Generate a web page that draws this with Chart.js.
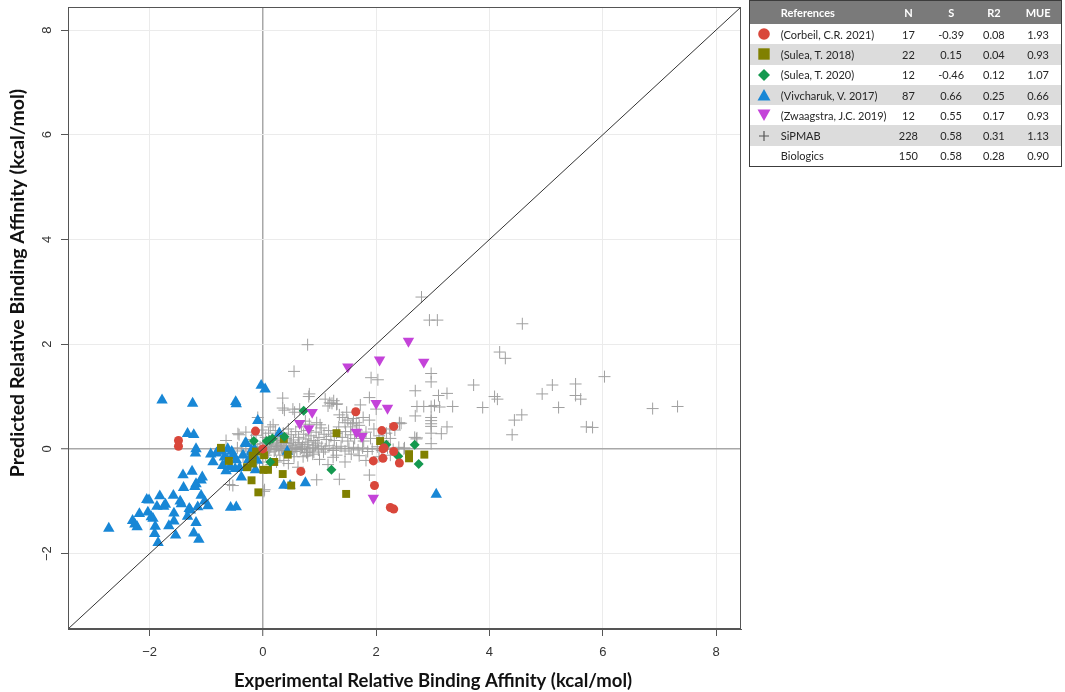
<!DOCTYPE html>
<html>
<head>
<meta charset="utf-8">
<script src="https://cdn.jsdelivr.net/npm/chart.js@4.4.0/dist/chart.umd.min.js"></script>
<style>
  body { margin: 0; background: #fff; }
  #wrap { position: relative; width: 1065px; height: 692px; }
  #legendTable {
    position: absolute; left: 749px; top: 0; width: 313px;
    border-collapse: collapse; border: 1.5px solid #3c3c3c;
    font-family: Lato, sans-serif; font-size: 11px; color: #262626;
  }
  #legendTable th { background: #7a7a7a; color: #fff; font-weight: bold; height: 23px; padding: 0; }
  #legendTable td { height: 20.3px; padding: 0; }
  #legendTable tr:nth-child(odd) td { background: #dcdcdc; }
  #legendTable .c { text-align: center; }
  #legendTable .l { text-align: left; padding-left: 3px; }
  #legendTable svg { display: block; margin: 0 auto; }
</style>
</head>
<body>
<div id="wrap">
  <canvas id="chart"></canvas>
  <table id="legendTable"></table>
</div>
<script>
// axis range and ticks
let axisMin = -3.44, axisMax = 8.44;
let xTicks = [-2, 0, 2, 4, 6, 8];
let yTicks = [-2, 0, 2, 4, 6, 8];

// legend table rows
let refNames = ["(Corbeil, C.R. 2021)", "(Sulea, T. 2018)", "(Sulea, T. 2020)", "(Vivcharuk, V. 2017)", "(Zwaagstra, J.C. 2019)", "SiPMAB", "Biologics"];
let refN = [17, 22, 12, 87, 12, 228, 150];
let refS = ["-0.39", "0.15", "-0.46", "0.66", "0.55", "0.58", "0.58"];
let refR2 = ["0.08", "0.04", "0.12", "0.25", "0.17", "0.31", "0.28"];
let refMUE = ["1.93", "0.93", "1.07", "0.66", "0.93", "1.13", "0.90"];

// [experimental, predicted]
let corbeil = [[-1.49,0.16],[-1.49,0.05],[-0.13,0.34],[0,0],[0.67,-0.43],[1.64,0.71],[2.1,0.35],[2.31,0.43],[2.12,0],[2.31,-0.05],[1.95,-0.23],[2.12,-0.18],[2.41,-0.27],[1.97,-0.7],[2.25,-1.12],[2.31,-1.15],[2.14,0.02]];

let sulea2018 = [[-0.74,0.02],[-0.6,-0.23],[-0.18,-0.13],[-0.18,-0.28],[-0.2,-0.6],[-0.08,-0.83],[0.01,-0.4],[0.09,-0.4],[0.35,-0.48],[0.37,0.19],[0.44,-0.11],[0.5,-0.7],[1.3,0.3],[1.47,-0.86],[2.07,0.15],[2.58,-0.1],[2.58,-0.18],[2.85,-0.11],[-0.12,-0.05],[0.02,-0.12],[-0.28,-0.35],[0.2,-0.25]];

let sulea2020 = [[-0.16,0.15],[0.07,0.15],[0.12,0.17],[0.17,0.2],[0.13,-0.25],[0.72,0.73],[0.38,0.23],[1.21,-0.4],[2.18,0.08],[2.39,-0.14],[2.68,0.08],[2.75,-0.29]];

let vivcharuk = [[-2.72,-1.52],[-1.78,0.93],[-1.24,0.87],[-0.48,0.9],[-0.47,0.86],[-0.03,1.21],[0.04,1.14],[-1.33,0.29],[-1.22,0.27],[-1.18,0.0],
  [-1.19,-0.08],[-0.92,-0.1],[-0.88,-0.25],[-0.78,-0.03],[-0.62,0.0],[-0.68,-0.16],[-0.62,-0.22],[-0.53,-0.13],[-0.47,-0.21],[-0.71,-0.32],
  [-0.58,-0.34],[-0.49,-0.38],[-0.41,-0.36],[-0.25,-0.21],[-0.38,-0.54],[-0.31,0.11],[-0.23,-0.18],[-0.2,-0.06],[-0.15,0.0],[-0.09,0.54],
  [-0.13,-0.4],[0.29,0.3],[0.43,-0.05],[0.37,-0.7],[0.48,-0.7],[0.75,-0.65],[-1.25,-0.43],[-1.41,-0.5],[-1.07,-0.54],[-1.09,-0.6],
  [-1.18,-0.67],[-1.2,-0.72],[-1.4,-0.74],[-1.09,-0.89],[-1.03,-1.0],[-0.97,-1.09],[-2.05,-0.97],[-2.01,-0.98],[-1.82,-0.9],[-1.87,-1.1],
  [-1.75,-1.1],[-1.72,-1.06],[-1.58,-0.89],[-1.46,-1.0],[-1.44,-1.05],[-2.18,-1.24],[-2.03,-1.21],[-1.97,-1.3],[-1.94,-1.33],[-1.57,-1.23],
  [-1.3,-1.14],[-1.28,-1.17],[-1.33,-1.29],[-1.15,-1.11],[-2.3,-1.37],[-2.26,-1.44],[-2.22,-1.49],[-1.9,-1.48],[-1.91,-1.62],[-1.66,-1.47],
  [-1.57,-1.38],[-1.54,-1.65],[-1.85,-1.79],[-1.18,-1.41],[-1.22,-1.61],[-1.13,-1.73],[-0.57,-1.12],[-0.47,-1.11],[3.06,-0.87],[-0.29,0.1],
  [-0.2,-0.03],[-0.82,-0.08],[-0.72,-0.05],[-0.55,-0.05],[-0.35,-0.12],[-0.65,-0.42],[-0.1,-0.22]];

let zwaagstra = [[1.5,1.57],[2.06,1.7],[2.57,2.06],[2.84,1.66],[0.87,0.7],[0.65,0.49],[0.81,0.39],[2.0,0.87],[2.2,0.78],[1.65,0.32],[1.75,0.24],[1.95,-0.94]];

let sipmab = [
  [2.8,2.9],[2.94,2.46],[3.08,2.46],[4.58,2.39],[4.18,1.85],[4.28,1.73],[6.03,1.38],[2.97,1.44],[2.97,1.28],[2.69,1.11],
  [3.1,1.02],[3.25,1.06],[3.72,1.22],[4.09,1.0],[4.14,0.95],[4.93,1.05],[5.11,1.22],[5.52,1.24],[5.52,1.02],[5.61,0.95],
  [2.72,0.81],[2.84,0.81],[2.97,0.81],[3.03,0.83],[3.12,0.8],[3.35,0.81],[3.88,0.79],[5.22,0.79],[6.88,0.77],[7.32,0.81],
  [2.69,0.63],[2.97,0.6],[2.97,0.54],[2.97,0.48],[2.97,0.43],[3.25,0.42],[3.15,0.29],[2.97,0.3],[2.97,0.1],[2.71,0.19],
  [2.49,0.0],[2.41,0.48],[4.44,0.55],[4.57,0.65],[4.4,0.27],[5.71,0.42],[5.82,0.41],
  [0.79,1.99],[0.55,1.48],[1.91,1.36],[2.03,1.32],[0.35,0.97],[0.35,0.78],[0.82,1.05],[0.81,1.0],[1.1,0.95],
  [1.18,0.88],[1.25,0.92],[1.3,0.85],[1.15,0.82],[0.53,0.76],[0.65,0.76],[0.18,0.46],[1.35,0.65],[1.48,0.7],[1.6,0.58],
  [1.65,0.5],[1.7,0.45],[1.58,0.48],[0.95,0.5],[1.01,0.46],[0.75,0.53],[0.82,0.47],[1.72,0.84],[1.88,0.98],[1.77,0.6],
  [2.41,0.5],[2.68,0.22],[-0.42,0.27],[-0.59,-0.68],[0.95,-0.59],[1.35,-0.58],[1.88,-0.5],[0.02,-0.81],[0.24,-0.25],[0.88,-0.1],
  [1.56,-0.1],[1.82,-0.22],[0.38,0.74],[0.56,0.7],[-0.09,0.6],[-0.44,0.29],[-0.65,0.16],[-0.53,-0.7],[0.03,-0.78],[0.37,-0.22],
  [-0.06,-0.25],[0.71,-0.15],[0.79,-0.13],[1.22,0.87],[1.31,0.86],[2.0,0.76],[1.41,0.6],[1.5,0.55],[1.88,0.55],[2.44,0.49],
  [2.24,0.38],[2.72,0.21],[2.5,0.02],[1.24,-0.16],[1.45,0.5],[1.55,0.42],
  [-0.45,0.02],[-0.38,-0.04],[-0.3,0.05],[-0.22,0.0],[-0.15,0.08],[-0.1,-0.03],[-0.05,0.04],[0.0,0.1],[0.04,-0.02],[0.08,0.06],
  [0.12,0.01],[0.15,0.09],[0.2,-0.04],[0.24,0.05],[0.28,0.0],[0.31,0.07],[0.35,-0.03],[0.39,0.04],[0.42,0.1],[0.46,0.0],
  [0.5,0.06],[0.55,-0.05],[0.58,0.03],[0.62,0.09],[0.66,-0.01],[0.7,0.05],[0.74,0.0],[0.79,0.08],[0.83,-0.04],[0.88,0.03],
  [0.93,0.07],[0.98,-0.02],[1.04,0.04],[1.1,0.0],[1.17,0.06],[1.24,-0.03],[1.3,0.02],[1.38,0.05],[1.45,-0.04],[1.52,0.01],
  [1.6,0.03],[1.68,-0.02],[1.76,0.02],[1.85,-0.05],[1.93,0.0],[2.02,0.04],[2.1,-0.03],[2.2,0.02],[2.3,-0.01],[2.4,0.03],
  [0.02,0.03],[0.06,0.12],[0.1,-0.06],[0.14,0.04],[0.18,0.11],[0.22,-0.01],[0.26,0.13],[0.33,0.02],[0.37,0.12],[0.44,-0.06],
  [0.48,0.13],[0.52,0.0],[0.6,-0.02],[0.64,0.12],[0.68,0.02],[0.77,-0.07],[0.81,0.13],[0.9,-0.06],[0.96,0.11],[1.07,-0.06],
  [0.05,0.22],[0.1,0.3],[0.16,0.18],[0.22,0.35],[0.27,0.25],[0.3,0.16],[0.36,0.3],[0.41,0.2],[0.45,0.38],[0.5,0.27],
  [0.54,0.17],[0.58,0.33],[0.63,0.22],[0.68,0.42],[0.72,0.28],[0.76,0.19],[0.8,0.35],[0.85,0.25],[0.9,0.16],[0.94,0.32],
  [0.99,0.22],[1.03,0.4],[1.08,0.28],[1.12,0.18],[1.16,0.35],[1.2,0.24],[1.26,0.16],[1.3,0.3],[1.34,0.42],[1.4,0.22],
  [1.46,0.33],[1.5,0.15],[1.55,0.27],[1.62,0.2],[1.66,0.36],[1.72,0.24],[1.78,0.15],[1.82,0.32],[1.9,0.2],[1.96,0.38],
  [2.05,0.25],[2.12,0.15],[2.18,0.3],[2.25,0.2],[2.33,0.36],[-0.2,0.18],[-0.3,0.32],[-0.12,0.26],[-0.02,0.36],[0.13,0.42],
  [-0.35,-0.15],[-0.2,-0.3],[0.05,-0.12],[0.15,-0.3],[0.3,-0.12],[0.45,-0.28],[0.55,-0.15],[0.62,-0.35],[1.0,-0.2],[1.15,-0.3],
  [1.3,-0.12],[1.45,-0.25],[1.7,-0.13],[2.05,-0.15],[2.25,-0.12]
];

let colors = ["#d9473b", "#808000", "#14994f", "#1887d6", "#c443d9", "#a0a0a0"];

function toXY(arr) {
  return arr.map(p => ({ x: p[0], y: p[1] }));
}

function fmtTick(v) {
  return v < 0 ? "\u2212" + Math.abs(v) : String(v);
}

// table with marker symbols
let symbols = [
  '<svg width="14" height="14"><circle cx="7" cy="7" r="5.8" fill="' + colors[0] + '"/></svg>',
  '<svg width="14" height="14"><rect x="1.3" y="1.3" width="11.4" height="11.4" fill="' + colors[1] + '"/></svg>',
  '<svg width="14" height="14"><polygon points="7,1 13,7 7,13 1,7" fill="' + colors[2] + '"/></svg>',
  '<svg width="14" height="14"><polygon points="7,1 13.5,12.5 0.5,12.5" fill="' + colors[3] + '"/></svg>',
  '<svg width="14" height="14"><polygon points="0.5,1.5 13.5,1.5 7,13" fill="' + colors[4] + '"/></svg>',
  '<svg width="14" height="14"><path d="M7 2 V12 M2 7 H12" stroke="#555" stroke-width="1.2"/></svg>',
  ''
];
let html = '<tr><th style="width:28px"></th><th class="l" style="width:107px">References</th><th style="width:43px">N</th><th style="width:43px">S</th><th style="width:43px">R2</th><th style="width:46px">MUE</th></tr>';
for (let i = 0; i < refNames.length; i++) {
  html += '<tr><td>' + symbols[i] + '</td><td class="l">' + refNames[i] + '</td><td class="c">' + refN[i] +
    '</td><td class="c">' + refS[i] + '</td><td class="c">' + refR2[i] + '</td><td class="c">' + refMUE[i] + '</td></tr>';
}
document.getElementById("legendTable").innerHTML = html;

let framePlugin = {
  id: "frame",
  afterDraw(chart) {
    let a = chart.chartArea, ctx = chart.ctx;
    ctx.save();
    ctx.strokeStyle = "#555";
    ctx.lineWidth = 1;
    ctx.strokeRect(a.left + 0.5, a.top + 0.5, a.right - a.left - 1, a.bottom - a.top - 1);

    // rotated y tick labels, R style
    let ys = chart.scales.y;
    ctx.fillStyle = "#333";
    ctx.font = "13px 'Liberation Sans'";
    ctx.textAlign = "center";
    ctx.textBaseline = "middle";
    yTicks.forEach(v => {
      ctx.save();
      ctx.translate(47, ys.getPixelForValue(v));
      ctx.rotate(-Math.PI / 2);
      ctx.fillText(fmtTick(v), 0, 0);
      ctx.restore();
    });

    // axis titles
    ctx.fillStyle = "#111";
    ctx.font = "bold 18.5px Lato";
    ctx.fillText("Experimental Relative Binding Affinity (kcal/mol)", 433, 681);
    ctx.font = "bold 19.5px Lato";
    ctx.translate(18, 283);
    ctx.rotate(-Math.PI / 2);
    ctx.fillText("Predicted Relative Binding Affinity (kcal/mol)", 0, 0);
    ctx.restore();
  }
};

function gridColor(c) {
  return c.tick && c.tick.value === 0 ? "#a8a8a8" : "#ebebeb";
}
function gridWidth(c) {
  return c.tick && c.tick.value === 0 ? 1.5 : 1;
}

let tickFont = { family: "Liberation Sans", size: 13 };

new Chart(document.getElementById("chart"), {
  type: "scatter",
  data: {
    datasets: [
      { type: "line", data: [{ x: axisMin, y: axisMin }, { x: axisMax, y: axisMax }], borderColor: "#333", borderWidth: 1, pointRadius: 0, fill: false },
      { data: toXY(zwaagstra), pointStyle: "triangle", pointRotation: 180, pointRadius: 6.6, backgroundColor: colors[4], borderWidth: 0 },
      { data: toXY(corbeil), pointStyle: "circle", pointRadius: 4.5, backgroundColor: colors[0], borderWidth: 0 },
      { data: toXY(sulea2020), pointStyle: "rectRot", pointRadius: 5, backgroundColor: colors[2], borderWidth: 0 },
      { data: toXY(sulea2018), pointStyle: "rect", pointRadius: 5.6, backgroundColor: colors[1], borderWidth: 0 },
      { data: toXY(vivcharuk), pointStyle: "triangle", pointRadius: 6.6, backgroundColor: colors[3], borderWidth: 0 },
      { data: toXY(sipmab), pointStyle: "cross", pointRadius: 6, borderColor: colors[5], borderWidth: 1, backgroundColor: colors[5] }
    ]
  },
  options: {
    responsive: true,
    maintainAspectRatio: false,
    animation: false,
    layout: { padding: { top: 5, right: 324, left: 0, bottom: 0 } },
    plugins: { legend: { display: false }, tooltip: { enabled: false } },
    scales: {
      x: {
        type: "linear", min: axisMin, max: axisMax,
        afterBuildTicks: s => { s.ticks = xTicks.map(v => ({ value: v })); },
        afterFit: s => { s.height = 63; },
        grid: { color: gridColor, lineWidth: gridWidth, tickLength: 7, tickColor: "#555", tickWidth: 1 },
        border: { display: true, color: "#555", width: 1 },
        ticks: { font: tickFont, color: "#333", padding: 9, maxRotation: 0, autoSkip: false, callback: fmtTick }
      },
      y: {
        type: "linear", min: axisMin, max: axisMax,
        afterBuildTicks: s => { s.ticks = yTicks.map(v => ({ value: v })); },
        afterFit: s => { s.width = 68; },
        grid: { color: gridColor, lineWidth: gridWidth, tickLength: 7, tickColor: "#555", tickWidth: 1 },
        border: { display: true, color: "#555", width: 1 },
        ticks: { display: false }
      }
    }
  },
  plugins: [framePlugin]
});
</script>
</body>
</html>
